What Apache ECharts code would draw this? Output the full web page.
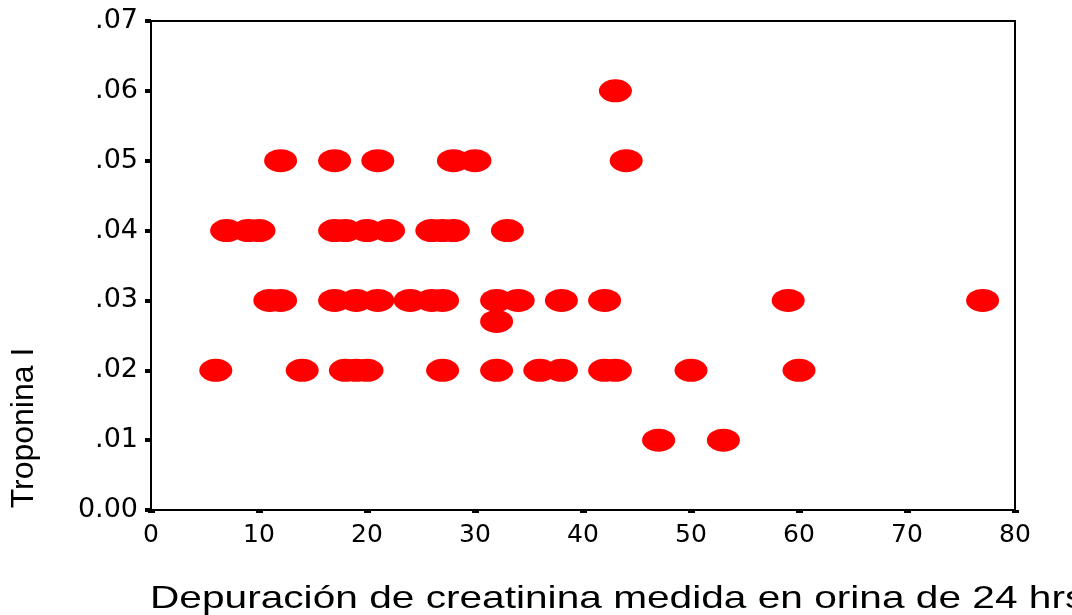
<!DOCTYPE html>
<html>
<head>
<meta charset="utf-8">
<title>Troponina I vs depuración de creatinina</title>
<script src="https://cdn.jsdelivr.net/npm/echarts@6/dist/echarts.min.js"></script>
<style>
  html, body { margin: 0; padding: 0; background: #fff; }
  #chart { width: 1072px; height: 615px; }
</style>
</head>
<body>
<div id="chart"></div>
<script>
// Creatinine clearance (24 h urine) for each patient
const depuracion = [
  43,
  12, 17, 21, 28, 30, 44,
  7, 9, 10, 17, 18, 20, 22, 26, 27, 28, 33,
  11, 12, 17, 19, 21, 24, 26, 27, 32, 34, 38, 42, 59, 77,
  32,
  6, 14, 18, 19, 20, 27, 32, 36, 38, 42, 43, 50, 60,
  47, 53
];
// Troponin I for the same patients, in the same order
const troponina = [
  0.06,
  0.05, 0.05, 0.05, 0.05, 0.05, 0.05,
  0.04, 0.04, 0.04, 0.04, 0.04, 0.04, 0.04, 0.04, 0.04, 0.04, 0.04,
  0.03, 0.03, 0.03, 0.03, 0.03, 0.03, 0.03, 0.03, 0.03, 0.03, 0.03, 0.03, 0.03, 0.03,
  0.027,
  0.02, 0.02, 0.02, 0.02, 0.02, 0.02, 0.02, 0.02, 0.02, 0.02, 0.02, 0.02, 0.02,
  0.01, 0.01
];
const yTickLabels = ['0.00', '.01', '.02', '.03', '.04', '.05', '.06', '.07'];
const xTickLabels = ['0', '10', '20', '30', '40', '50', '60', '70', '80'];

const xTitle = 'Depuración de creatinina medida en orina de 24 hrs';
const yTitle = 'Troponina I';

const points = depuracion.map((x, i) => [x, troponina[i]]);

const chart = echarts.init(document.getElementById('chart'), null, { renderer: 'canvas' });

chart.setOption({
  backgroundColor: '#ffffff',
  animation: false,
  grid: {
    left: 151, right: 57, top: 21, bottom: 105,
    show: true, borderColor: '#000', borderWidth: 2, backgroundColor: 'transparent'
  },
  xAxis: {
    type: 'value', min: 0, max: 80, interval: 10,
    axisLine: { show: true, lineStyle: { color: '#000', width: 2 } },
    axisTick: { show: true, length: 3, lineStyle: { color: '#000', width: 7 } },
    axisLabel: {
      margin: 13, color: '#000', fontFamily: 'DejaVu Sans', fontSize: 25,
      formatter: (v, i) => xTickLabels[i]
    },
    splitLine: { show: false }
  },
  yAxis: {
    type: 'value', min: 0, max: 0.07, interval: 0.01,
    axisLine: { show: true, lineStyle: { color: '#000', width: 2 } },
    axisTick: { show: true, length: 6, lineStyle: { color: '#000', width: 4 } },
    axisLabel: {
      margin: 13, color: '#000', fontFamily: 'DejaVu Sans', fontSize: 27,
      formatter: (v, i) => yTickLabels[i]
    },
    splitLine: { show: false }
  },
  series: [{
    type: 'scatter',
    data: points,
    symbol: 'path://M0,10 A10,10 0 1,1 20,10 A10,10 0 1,1 0,10 Z',
    symbolSize: [33, 23],
    itemStyle: { color: '#ff0000', opacity: 1 },
    emphasis: { disabled: true }
  }],
  graphic: [
    {
      type: 'text', x: 150, y: 599, scaleX: 1.27,
      style: {
        text: xTitle, fill: '#000', font: '32px "Liberation Sans"',
        textAlign: 'left', textVerticalAlign: 'middle'
      }
    },
    {
      type: 'text', x: 24, y: 428, rotation: Math.PI / 2, scaleX: 1.0,
      style: {
        text: yTitle, fill: '#000', font: '32px "Liberation Sans"',
        textAlign: 'center', textVerticalAlign: 'middle'
      }
    }
  ]
});
</script>
</body>
</html>
